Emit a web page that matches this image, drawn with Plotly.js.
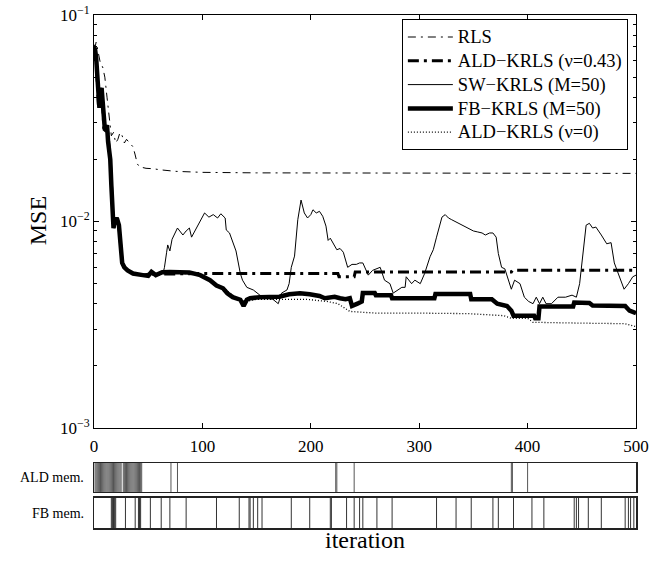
<!DOCTYPE html>
<html>
<head>
<meta charset="utf-8">
<script src="https://cdn.plot.ly/plotly-3.0.1.min.js"></script>
<style>html,body{margin:0;padding:0;background:#fff;}#chart{width:662px;height:561px;}</style>
</head>
<body>
<div id="chart"></div>
<script>
// ---------- data ----------
// shared early transient of the kernel methods (iterations 0..45)
const krlsEarlyIter = [0,1,2,3,4,5,6,7,8,9,10,11,12,13,14,15,16,17,18,19,21,23,25,26,28,31,36,42,45];
const krlsEarlyMse  = [0.070,0.068,0.062,0.047,0.037,0.0355,0.0425,0.0443,0.038,0.0284,0.028,0.0277,0.0293,0.0243,0.0227,0.020,0.015,0.011,0.0093,0.0100,0.0104,0.0096,0.0074,0.0063,0.0060,0.0058,0.0056,0.0055,0.0055];

const rlsIter = [0,1,2,4,6,8,10,12,14,16,18,20,22,24,26,28,30,33,36,38,40,42,48,55,61,75,100,150,200,300,400,500];
const rlsMse  = [0.072,0.070,0.074,0.066,0.058,0.056,0.050,0.040,0.032,0.026,0.027,0.024,0.025,0.027,0.026,0.024,0.025,0.024,0.023,0.021,0.019,0.0184,0.0181,0.0180,0.0178,0.0175,0.0173,0.0172,0.0172,0.0171,0.0171,0.0171];

const ald043Iter = [50,100,225,226,240,241,385,386,500];
const ald043Mse  = [0.00555,0.0056,0.0056,0.0054,0.0054,0.0057,0.0057,0.0058,0.0058];

const swIter = [50,55,60,64,65,67,68,70,72,77,80,82,85,88,90,94,98,102,106,110,114,117,121,122,125,128,131,135,137,141,147,153,159,165,170,173,178,180,182,185,188,191,194,197,200,202,205,208,211,214,216,218,221,224,227,230,234,238,242,245,248,253,257,261,264,268,273,276,281,284,287,288,293,296,301,305,310,313,316,321,324,327,330,333,336,339,342,345,350,354,358,361,365,368,371,373,376,379,382,385,388,393,397,401,405,408,411,414,417,422,428,435,441,445,448,451,454,457,460,463,465,468,473,477,480,485,489,493,497,500];
const swMse  = [0.00545,0.0056,0.0055,0.0057,0.0060,0.0071,0.0077,0.0072,0.0082,0.0093,0.0088,0.0086,0.0090,0.0093,0.0084,0.0092,0.0100,0.0110,0.0105,0.0108,0.0104,0.0109,0.0104,0.0091,0.0088,0.0080,0.0072,0.0056,0.0052,0.0048,0.00466,0.0044,0.00425,0.0042,0.0040,0.0045,0.00466,0.0050,0.0060,0.0068,0.0102,0.0127,0.0110,0.0104,0.0108,0.0114,0.0110,0.0112,0.0106,0.0095,0.0081,0.0083,0.0078,0.0073,0.0074,0.0071,0.0060,0.0062,0.0062,0.0063,0.0063,0.0055,0.0058,0.0059,0.0060,0.0052,0.0050,0.0045,0.0047,0.0048,0.0048,0.0054,0.0050,0.0052,0.0050,0.0056,0.00675,0.0073,0.0084,0.0105,0.0108,0.0104,0.0102,0.0100,0.0098,0.0096,0.0094,0.0093,0.0090,0.0089,0.0088,0.0086,0.0088,0.0088,0.0084,0.0070,0.0060,0.0059,0.0052,0.0047,0.0052,0.0050,0.0043,0.0041,0.0040,0.0043,0.0040,0.0043,0.0040,0.0040,0.0043,0.0043,0.0044,0.0043,0.0050,0.0068,0.0096,0.0098,0.0093,0.0094,0.0091,0.0086,0.0078,0.0079,0.0063,0.0053,0.0047,0.0050,0.0054,0.0055];

const fbIter = [50,53,57,63,70,79,88,98,102,107,113,119,123,128,135,138,141,144,153,162,171,180,190,199,208,213,218,222,227,232,236,238,243,247,248,259,260,274,275,314,315,347,348,367,372,381,385,387,406,407,410,411,442,443,457,460,490,494,500];
const fbMse  = [0.00545,0.0057,0.0055,0.00568,0.0057,0.0057,0.00567,0.0055,0.00537,0.0052,0.0049,0.00475,0.00449,0.0043,0.00418,0.0039,0.00418,0.00425,0.0043,0.0043,0.00432,0.00444,0.00449,0.00444,0.00436,0.00425,0.0043,0.00432,0.00425,0.0042,0.00425,0.0039,0.0040,0.0041,0.0045,0.0045,0.0044,0.0044,0.00425,0.00425,0.00446,0.00446,0.0042,0.0042,0.0040,0.0039,0.0037,0.0035,0.0035,0.0034,0.0034,0.00388,0.00388,0.00405,0.00403,0.00392,0.0039,0.0037,0.0036];

const ald0Iter = [50,70,98,105,112,119,130,140,150,177,196,215,225,236,260,300,345,378,385,400,405,450,490,500];
const ald0Mse  = [0.00545,0.0057,0.0055,0.0052,0.0050,0.0048,0.0043,0.0041,0.0042,0.0042,0.0042,0.0041,0.0040,0.00367,0.0036,0.0036,0.00358,0.0035,0.0034,0.0034,0.00325,0.00322,0.0032,0.0031];

// dictionary membership (iteration indices)
const aldMemIdx = [1,2,3,4,5,6,7,8,9,10,11,12,13,14,15,16,17,18,19,20,21,22,23,24,25,27,28,29,30,31,32,33,34,35,36,37,38,39,40,41,42,43,44,71,77,223,224,240,385,386,400];
const fbMemIdx  = [16,17,18,19,20,29,38,41,42,43,52,62,70,85,113,134,143,144,147,151,155,182,199,218,219,233,240,245,248,261,275,316,334,348,368,373,387,404,415,443,445,447,456,468,490,493,495,498];

const seriesNames = ['RLS','ALD\u2212KRLS (\u03bd=0.43)','SW\u2212KRLS (M=50)','FB\u2212KRLS (M=50)','ALD\u2212KRLS (\u03bd=0)'];

// ---------- build ----------
function withEarly(xs, ys){ return {x: krlsEarlyIter.concat(xs), y: krlsEarlyMse.concat(ys)}; }
function memLines(idx){ const x=[],y=[]; idx.forEach(i=>{x.push(i,i,null);y.push(0,1,null);}); return {x,y}; }
function legName(s){ return '<span style="font-size:18.5px">' + s + '</span>'; }

const FONT = 'Liberation Serif, Times New Roman, serif';
const a0 = withEarly(ald0Iter, ald0Mse), a43 = withEarly(ald043Iter, ald043Mse), sw = withEarly(swIter, swMse), fb = withEarly(fbIter, fbMse);
const mA = memLines(aldMemIdx), mF = memLines(fbMemIdx);

const traces = [
  {x:a0.x, y:a0.y, name:legName(seriesNames[4]), legendrank:5, mode:'lines', line:{color:'black', width:1.3, dash:'1px,2px'}},
  {x:rlsIter, y:rlsMse, name:legName(seriesNames[0]), legendrank:1, mode:'lines', line:{color:'black', width:1, dash:'8px,5px,2px,5px'}},
  {x:a43.x, y:a43.y, name:legName(seriesNames[1]), legendrank:2, mode:'lines', line:{color:'black', width:3, dash:'11px,5px,3px,5px'}},
  {x:sw.x, y:sw.y, name:legName(seriesNames[2]), legendrank:3, mode:'lines', line:{color:'black', width:1}},
  {x:fb.x, y:fb.y, name:legName(seriesNames[3]), legendrank:4, mode:'lines', line:{color:'black', width:4.5}},
  {x:mA.x, y:mA.y, xaxis:'x2', yaxis:'y2', mode:'lines', showlegend:false, line:{color:'#555', width:1}},
  {x:mF.x, y:mF.y, xaxis:'x3', yaxis:'y3', mode:'lines', showlegend:false, line:{color:'#333', width:1}}
];

const minorVals = [];
[0.001,0.01].forEach(d=>{for(let k=2;k<=9;k++) minorVals.push(d*k);});

const stripX = {range:[0,500], showticklabels:false, ticks:'', showline:true, linecolor:'#222', linewidth:1.5, mirror:true, showgrid:false, zeroline:false};
const stripY = {range:[0,1], showticklabels:false, ticks:'', showline:true, linecolor:'#222', linewidth:1.5, mirror:true, showgrid:false, zeroline:false, fixedrange:true};

const layout = {
  width:662, height:561,
  margin:{l:94, r:26, t:15, b:33},
  paper_bgcolor:'white', plot_bgcolor:'white',
  font:{family:FONT, color:'black', size:17},
  showlegend:true,
  legend:{x:0.985, xanchor:'right', y:0.992, yanchor:'top', bgcolor:'white', bordercolor:'black', borderwidth:1, font:{family:FONT, size:16}, tracegroupgap:0, itemwidth:45},
  xaxis:{domain:[0,1], anchor:'y', range:[0,500], tickvals:[0,100,200,300,400,500], ticks:'inside', ticklen:5, tickcolor:'black', showline:true, linecolor:'black', linewidth:1, mirror:'ticks', showgrid:false, zeroline:false, tickfont:{family:FONT, size:17}, ticklabelstandoff:3},
  yaxis:{domain:[0.1949,1], anchor:'x', type:'log', range:[-3,-1], tickvals:[0.001,0.01,0.1], ticktext:['10<sup>\u22123</sup>','10<sup>\u22122</sup>','10<sup>\u22121</sup>'], ticks:'inside', ticklen:5, tickcolor:'black', showline:true, linecolor:'black', linewidth:1, mirror:'ticks', showgrid:false, zeroline:false, tickfont:{family:FONT, size:17},
         minor:{tickmode:'array', tickvals:minorVals, ticks:'inside', ticklen:3, tickcolor:'black', showgrid:false}},
  xaxis2:Object.assign({domain:[0,1], anchor:'y2'}, stripX),
  yaxis2:Object.assign({domain:[0.0702,0.1267], anchor:'x2'}, stripY),
  xaxis3:Object.assign({domain:[0,1], anchor:'y3'}, stripX),
  yaxis3:Object.assign({domain:[0,0.0585], anchor:'x3'}, stripY),
  annotations:[
    {text:'MSE', xref:'paper', yref:'paper', x:-0.1033, y:0.598, xanchor:'center', yanchor:'middle', textangle:-90, showarrow:false, font:{family:FONT, size:24}},
    {text:'iteration', xref:'paper', yref:'paper', x:0.5, y:-0.0234, xanchor:'center', yanchor:'middle', showarrow:false, font:{family:FONT, size:24}},
    {text:'ALD mem.', xref:'paper', yref:'paper', x:-0.0148, y:0.0985, xanchor:'right', yanchor:'middle', showarrow:false, font:{family:FONT, size:14}},
    {text:'FB mem.', xref:'paper', yref:'paper', x:-0.0148, y:0.0292, xanchor:'right', yanchor:'middle', showarrow:false, font:{family:FONT, size:14}}
  ]
};

Plotly.newPlot('chart', traces, layout, {displayModeBar:false, staticPlot:true});
</script>
</body>
</html>
